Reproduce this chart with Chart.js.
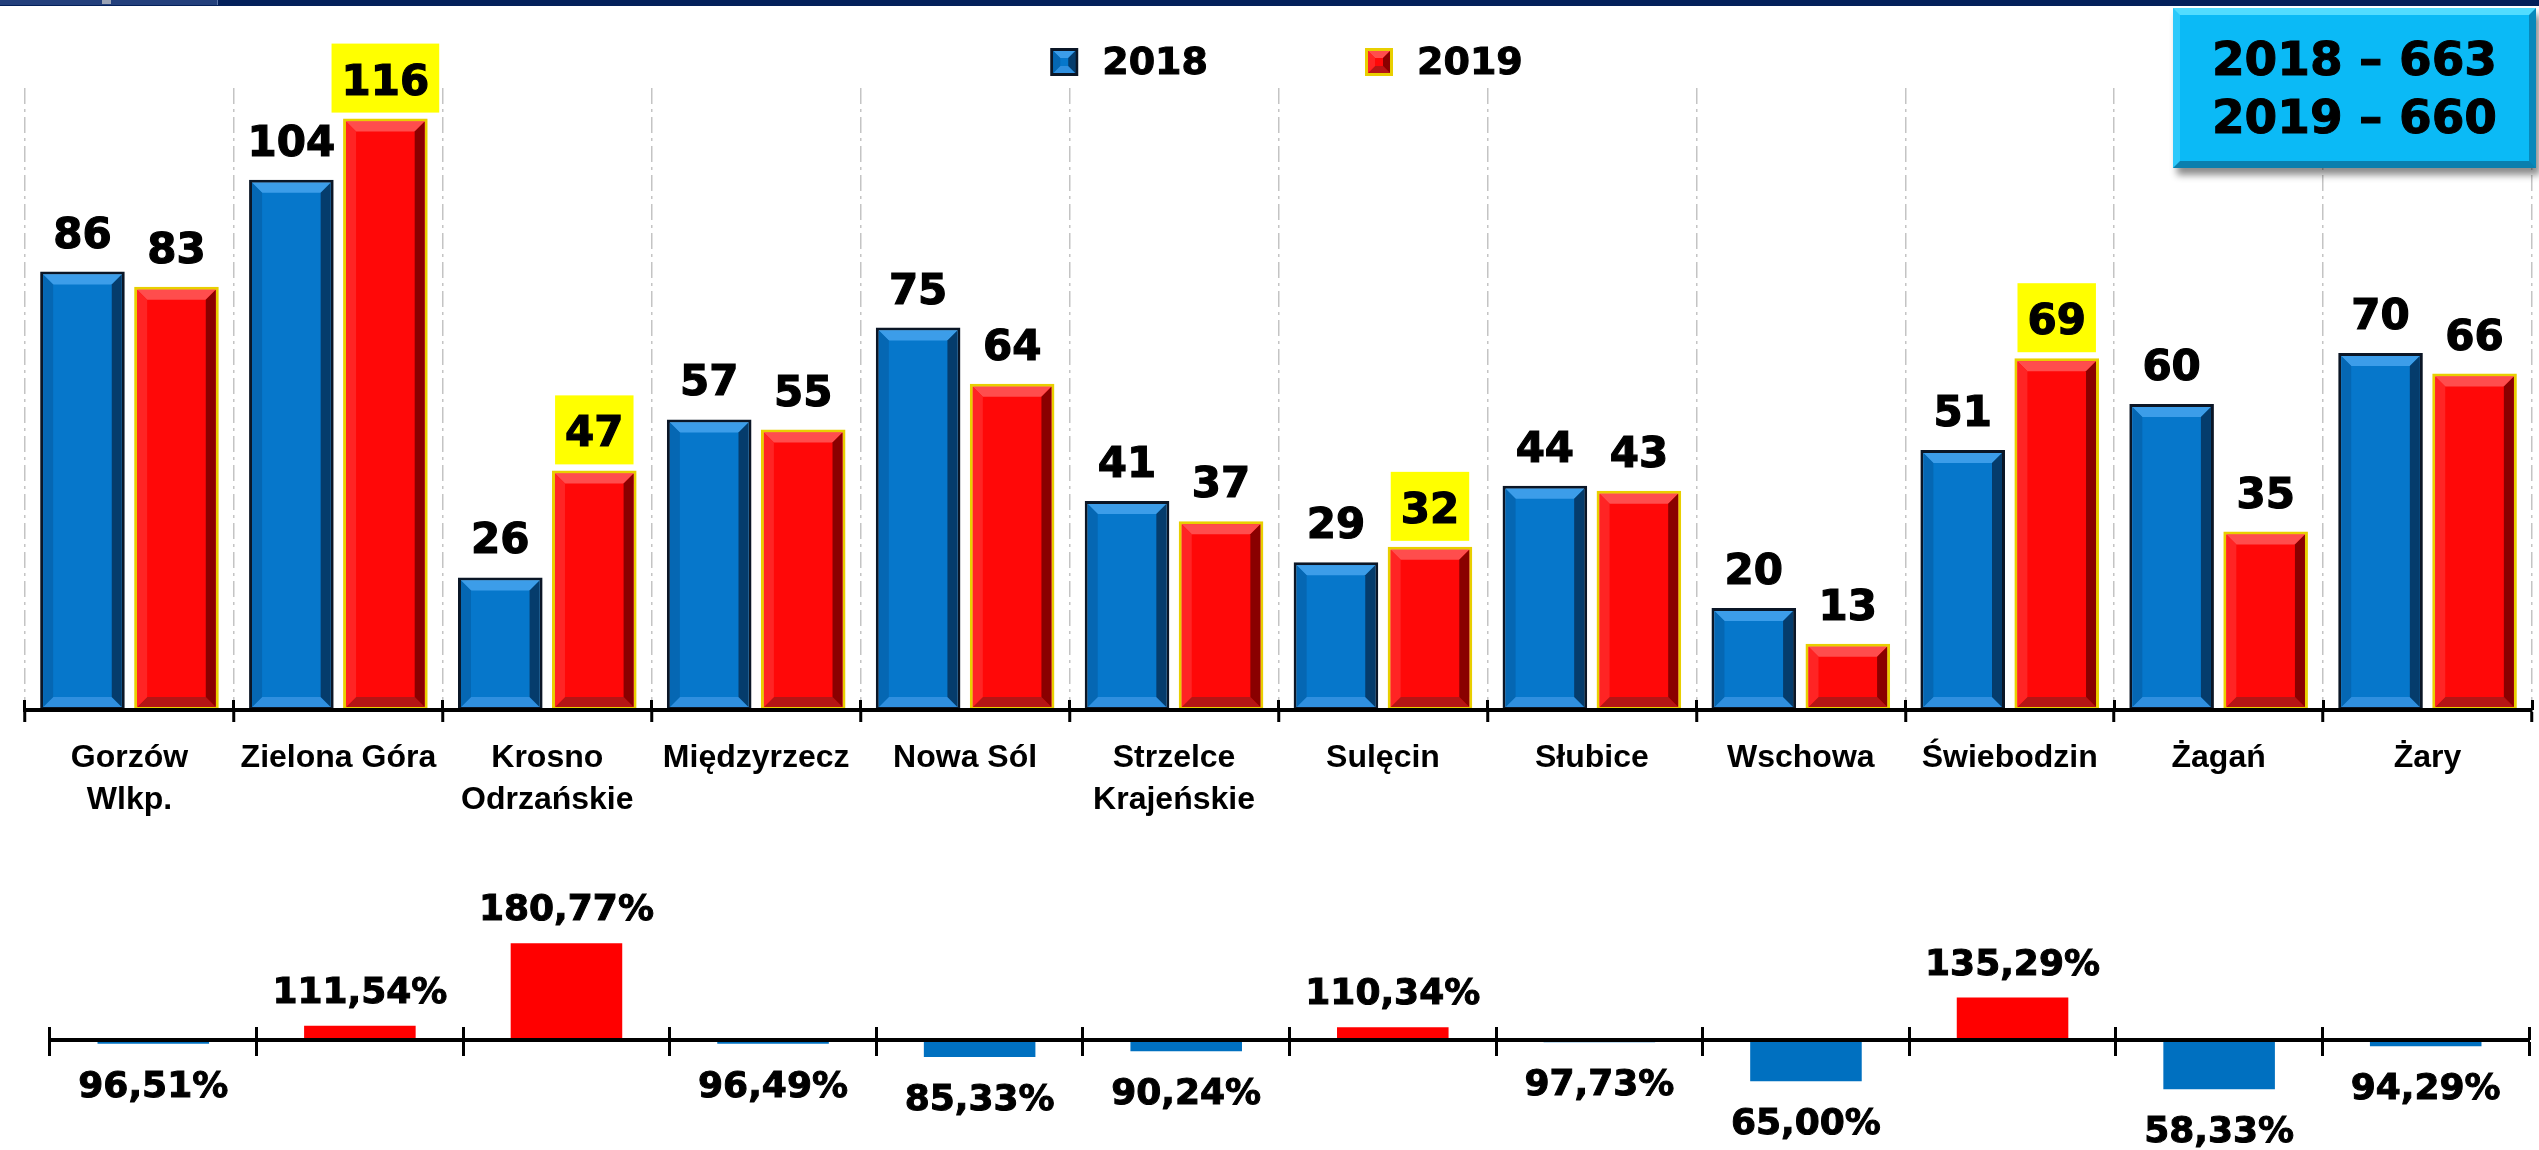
<!DOCTYPE html>
<html lang="pl">
<head>
<meta charset="utf-8">
<title>2018 / 2019</title>
<script src="https://cdn.jsdelivr.net/npm/chart.js@4.4.1/dist/chart.umd.min.js"></script>
<style>
  html, body { margin: 0; padding: 0; background: #fff; }
  #page { position: relative; width: 2539px; height: 1150px; overflow: hidden; background: #fff; }
  #topbar { position: absolute; left: 0; top: 0; width: 100%; height: 6px; background: #03205a; }
  #tab { position: absolute; left: 0; top: 0; width: 217px; height: 5px; background: #23407c; border-right: 1px solid #5a74a8; }
  #tab span { position: absolute; left: 102px; top: 0; width: 9px; height: 4px; background: #9aa3b5; }
  #mainChart { position: absolute; left: 0; top: 0; }
  #ratioChart { position: absolute; left: 0; top: 850px; }
  #totals {
    position: absolute; left: 2173px; top: 8px; width: 363px; height: 160px;
    box-sizing: border-box; background: #0bbaf6;
    border-style: solid; border-width: 7px;
    border-color: #52dcff #0788bb #0a7fae #2cc9fb;
    box-shadow: 4px 7px 7px rgba(0, 0, 0, 0.45);
    display: flex; flex-direction: column; justify-content: center; align-items: center;
    font-family: "DejaVu Sans", sans-serif; font-weight: bold; font-size: 47px; line-height: 58px; color: #000;
    -webkit-text-stroke: 1px #000;
  }
</style>
</head>
<body>
<div id="page">
  <canvas id="mainChart" width="2539" height="840"></canvas>
  <canvas id="ratioChart" width="2539" height="300"></canvas>
  <div id="topbar"></div>
  <div id="tab"><span></span></div>
  <div id="totals"><div>2018 – 663</div><div>2019 – 660</div></div>
</div>
<script>
// dane
const categories = [['Gorzów', 'Wlkp.'], 'Zielona Góra', ['Krosno', 'Odrzańskie'], 'Międzyrzecz', 'Nowa Sól',
  ['Strzelce', 'Krajeńskie'], 'Sulęcin', 'Słubice', 'Wschowa', 'Świebodzin', 'Żagań', 'Żary'];
const series2018 = [86, 104, 26, 57, 75, 41, 29, 44, 20, 51, 60, 70];
const series2019 = [83, 116, 47, 55, 64, 37, 32, 43, 13, 69, 35, 66];
const ratio = [96.51, 111.54, 180.77, 96.49, 85.33, 90.24, 110.34, 97.73, 65.00, 135.29, 58.33, 94.29];

// kolory słupków 3D
const bluePal = { top: '#3c9de9', bottom: '#2f8fdf', left: '#0567b3', right: '#053c6c' };
const redPal = { top: '#ff4d4d', bottom: '#b51515', left: '#ff2424', right: '#8a0000' };

Chart.defaults.font.family = '"DejaVu Sans", sans-serif';
Chart.defaults.color = '#000';

// fazowanie prostokąta (efekt wypukłości)
function bevel(ctx, x0, y0, x1, y1, pal, inset, depth) {
  const a = x0 + inset, b = y0 + inset, c = x1 - inset, e = y1 - inset;
  const d = Math.max(0, Math.min(depth, (c - a) / 2, (e - b) / 2));
  const band = (pts, color) => {
    ctx.beginPath();
    ctx.moveTo(pts[0][0], pts[0][1]);
    pts.slice(1).forEach(p => ctx.lineTo(p[0], p[1]));
    ctx.closePath();
    ctx.fillStyle = color;
    ctx.fill();
  };
  ctx.save();
  band([[a, b], [c, b], [c - d, b + d], [a + d, b + d]], pal.top);
  band([[a, e], [c, e], [c - d, e - d], [a + d, e - d]], pal.bottom);
  band([[a, b], [a + d, b + d], [a + d, e - d], [a, e]], pal.left);
  band([[c, b], [c - d, b + d], [c - d, e - d], [c, e]], pal.right);
  ctx.restore();
}

const bevelBars = {
  id: 'bevelBars',
  afterDatasetsDraw(chart) {
    const ctx = chart.ctx;
    chart.data.datasets.forEach((ds, di) => {
      if (!ds.bevel) return;
      chart.getDatasetMeta(di).data.forEach(bar => {
        const { x, y, base, width } = bar.getProps(['x', 'y', 'base', 'width'], true);
        bevel(ctx, x - width / 2, Math.min(y, base), x + width / 2, Math.max(y, base), ds.bevel, ds.borderWidth, 10);
      });
    });
  }
};

// etykiety wartości nad słupkami (żółte tło gdy 2019 > 2018)
const barLabels = {
  id: 'barLabels',
  afterDatasetsDraw(chart) {
    const ctx = chart.ctx;
    ctx.save();
    ctx.font = 'bold 42px "DejaVu Sans"';
    ctx.textAlign = 'center';
    ctx.textBaseline = 'alphabetic';
    ctx.lineWidth = 1.2;
    ctx.strokeStyle = '#000';
    chart.data.datasets.forEach((ds, di) => {
      chart.getDatasetMeta(di).data.forEach((bar, i) => {
        const v = ds.data[i];
        const txt = String(v);
        const yBase = bar.y - 24;
        if (di === 1 && v > series2018[i]) {
          const w = ctx.measureText(txt).width;
          ctx.fillStyle = '#ffff00';
          ctx.fillRect(bar.x - w / 2 - 10, yBase - 51, w + 20, 69);
        }
        ctx.fillStyle = '#000';
        ctx.fillText(txt, bar.x, yBase);
        ctx.strokeText(txt, bar.x, yBase);
      });
    });
    ctx.restore();
  }
};

// legenda z kwadracikami 3D
const boxLegend = {
  id: 'boxLegend',
  afterDraw(chart) {
    const ctx = chart.ctx;
    const box = 28, gapText = 24, gapItem = 157, top = 48;
    ctx.save();
    ctx.font = 'bold 38px "DejaVu Sans"';
    const items = chart.data.datasets.map(ds => ({ ds, w: box + gapText + ctx.measureText(ds.label).width }));
    const total = items.reduce((s, it) => s + it.w, 0) + gapItem * (items.length - 1);
    let x = (chart.chartArea.left + chart.chartArea.right) / 2 - total / 2 + 8;
    items.forEach(it => {
      ctx.fillStyle = it.ds.borderColor;
      ctx.fillRect(x, top, box, box);
      ctx.fillStyle = it.ds.backgroundColor;
      ctx.fillRect(x + 3, top + 3, box - 6, box - 6);
      bevel(ctx, x, top, x + box, top + box, it.ds.bevel, 3, 7);
      ctx.fillStyle = '#000';
      ctx.strokeStyle = '#000';
      ctx.lineWidth = 1;
      ctx.textAlign = 'left';
      ctx.textBaseline = 'alphabetic';
      ctx.fillText(it.ds.label, x + box + gapText, top + 26);
      ctx.strokeText(it.ds.label, x + box + gapText, top + 26);
      x += it.w + gapItem;
    });
    ctx.restore();
  }
};

new Chart(document.getElementById('mainChart'), {
  type: 'bar',
  data: {
    labels: categories,
    datasets: [
      { label: '2018', data: series2018, xAxisID: 'x', backgroundColor: '#0677cb', borderColor: '#0b1626',
        borderWidth: 3, borderSkipped: false, bevel: bluePal },
      { label: '2019', data: series2019, xAxisID: 'x', backgroundColor: '#ff0808', borderColor: '#e8cf00',
        borderWidth: 3, borderSkipped: false, bevel: redPal }
    ]
  },
  options: {
    responsive: false,
    devicePixelRatio: 1,
    animation: false,
    categoryPercentage: 0.9,
    barPercentage: 0.9,
    layout: { padding: { left: 25, right: 7, top: 88, bottom: 0 } },
    plugins: { legend: { display: false }, tooltip: { enabled: false } },
    scales: {
      x: {
        type: 'category',
        position: 'bottom',
        offset: true,
        grid: { offset: true, color: '#c4c4c4', lineWidth: 1.5, tickColor: '#000', tickWidth: 3,
          tickLength: 12, tickBorderDash: [1, 0] },
        border: { display: true, color: '#000', width: 4, dash: [16, 5, 3, 5], z: 1 },
        ticks: {
          color: '#000', padding: 15, maxRotation: 0, autoSkip: false,
          font: { family: '"Liberation Sans", Arial, sans-serif', size: 32, weight: 'bold', lineHeight: 1.3125 }
        },
        afterFit(scale) { scale.height = 130; }
      },
      xUp: {
        axis: 'x',
        type: 'category',
        position: { y: 0 },
        offset: true,
        grid: { offset: true, drawOnChartArea: false, tickColor: '#000', tickWidth: 3, tickLength: -10, tickBorderDash: [1, 0] },
        border: { display: false },
        ticks: { display: false },
        afterFit(scale) { scale.height = 0; }
      },
      y: { display: false, min: 0, max: 122 }
    }
  },
  plugins: [bevelBars, barLabels, boxLegend]
});

// etykiety procentowe
const ratioLabels = {
  id: 'ratioLabels',
  afterDatasetsDraw(chart) {
    const ctx = chart.ctx;
    ctx.save();
    ctx.font = 'bold 36px "DejaVu Sans"';
    ctx.textAlign = 'center';
    ctx.textBaseline = 'alphabetic';
    ctx.fillStyle = '#000';
    ctx.strokeStyle = '#000';
    ctx.lineWidth = 1;
    chart.getDatasetMeta(0).data.forEach((bar, i) => {
      const v = ratio[i];
      const txt = v.toFixed(2).replace('.', ',') + '%';
      const y = v >= 100 ? bar.y - 23 : bar.y + 27 + 26;
      ctx.fillText(txt, bar.x, y);
      ctx.strokeText(txt, bar.x, y);
    });
    ctx.restore();
  }
};

new Chart(document.getElementById('ratioChart'), {
  type: 'bar',
  data: {
    labels: categories,
    datasets: [{
      label: '2019 / 2018',
      data: ratio,
      base: 100,
      xAxisID: 'x',
      backgroundColor: ctx => (ctx.raw >= 100 ? '#ff0000' : '#0070c0'),
      borderWidth: 0
    }]
  },
  options: {
    responsive: false,
    devicePixelRatio: 1,
    animation: false,
    categoryPercentage: 1,
    barPercentage: 0.54,
    layout: { padding: { left: 50, right: 10, top: 30, bottom: 20 } },
    plugins: { legend: { display: false }, tooltip: { enabled: false } },
    scales: {
      x: {
        type: 'category',
        position: { y: 100 },
        offset: true,
        grid: { offset: true, drawOnChartArea: false, tickColor: '#000', tickWidth: 3, tickLength: 14, tickBorderDash: [1, 0] },
        border: { display: true, color: '#000', width: 4, z: 1 },
        ticks: { display: false },
        afterFit(scale) { scale.height = 0; }
      },
      xUp: {
        axis: 'x',
        type: 'category',
        position: { y: 100 },
        offset: true,
        grid: { offset: true, drawOnChartArea: false, tickColor: '#000', tickWidth: 3, tickLength: -13, tickBorderDash: [1, 0] },
        border: { display: false },
        ticks: { display: false },
        afterFit(scale) { scale.height = 0; }
      },
      y: { display: false, min: 24, max: 234 }
    }
  },
  plugins: [ratioLabels]
});
</script>
</body>
</html>
